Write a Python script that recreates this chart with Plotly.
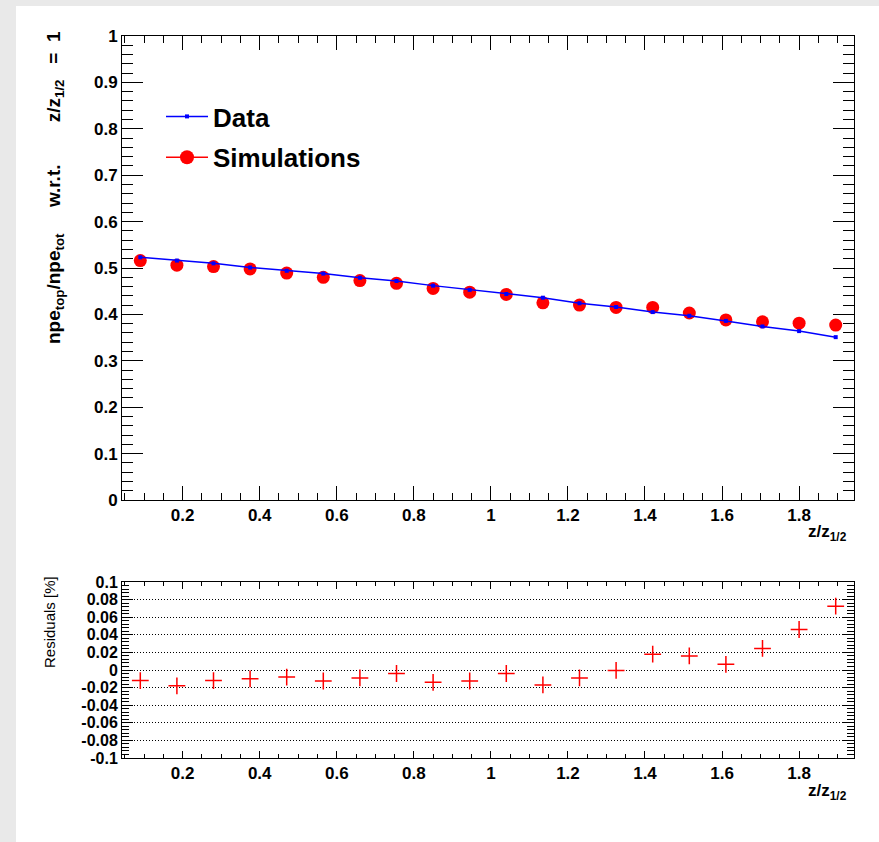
import plotly.graph_objects as go

# ---------------- data ----------------
z_ratio = [0.090, 0.185, 0.280, 0.375, 0.470, 0.565, 0.660, 0.755, 0.850, 0.945,
           1.040, 1.135, 1.230, 1.325, 1.420, 1.515, 1.610, 1.705, 1.800, 1.895]
data_vals = [0.523, 0.516, 0.510, 0.501, 0.494, 0.488, 0.479, 0.472, 0.462, 0.453,
             0.444, 0.436, 0.424, 0.416, 0.405, 0.397, 0.386, 0.374, 0.364, 0.351]
sim_vals = [0.516, 0.506, 0.503, 0.498, 0.489, 0.480, 0.473, 0.467, 0.456, 0.448,
            0.443, 0.425, 0.420, 0.415, 0.415, 0.403, 0.388, 0.384, 0.381, 0.377]
residuals = [-0.012, -0.018, -0.012, -0.010, -0.008, -0.0125, -0.009, -0.004, -0.014, -0.0125,
             -0.004, -0.017, -0.009, -0.0005, 0.018, 0.016, 0.0065, 0.0245, 0.046, 0.0725]
res_tickvals = [0.1, 0.08, 0.06, 0.04, 0.02, 0.0, -0.02, -0.04, -0.06, -0.08, -0.1]
res_ticktext = ["0.1", "0.08", "0.06", "0.04", "0.02", "0", "-0.02", "-0.04", "-0.06", "-0.08", "-0.1"]

W, H = 879, 842
FONT = "Liberation Sans, Arial, Helvetica, sans-serif"


def px_x(p):
    return p / W


def px_y(p):
    return 1 - p / H


fig = go.Figure()

# top panel
fig.add_trace(go.Scatter(x=z_ratio, y=sim_vals, mode="markers", name="Simulations",
                         marker=dict(color="#ff0000", size=13, symbol="circle"),
                         showlegend=False, xaxis="x", yaxis="y"))
fig.add_trace(go.Scatter(x=z_ratio, y=data_vals, mode="lines+markers", name="Data",
                         line=dict(color="#0000ff", width=1.5),
                         marker=dict(color="#0000ff", size=4, symbol="square"),
                         legendgroup="a", xaxis="x", yaxis="y"))
# legend entry for simulations (line + marker as in the reference legend)
fig.add_trace(go.Scatter(x=[None], y=[None], mode="lines+markers", name="Simulations",
                         line=dict(color="#ff0000", width=1.5),
                         marker=dict(color="#ff0000", size=14, symbol="circle"),
                         legendgroup="b", xaxis="x", yaxis="y"))

# bottom panel
fig.add_trace(go.Scatter(x=z_ratio, y=residuals, mode="markers", name="Residuals",
                         marker=dict(symbol="cross-thin", size=12,
                                     line=dict(color="#ff0000", width=1.5)),
                         showlegend=False, xaxis="x2", yaxis="y2"))

dom_x = [px_x(122), px_x(854)]
tickfont = dict(family=FONT, size=17, color="black", weight="bold")

common_x = dict(range=[0.0425, 1.9425], tickmode="linear", tick0=0, dtick=0.2,
                ticks="inside", tickcolor="black", tickwidth=1, automargin=False,
                showline=True, linecolor="black", linewidth=1, mirror="ticks",
                showgrid=False, zeroline=False, tickfont=tickfont, domain=dom_x)

fig.update_layout(
    template="none",
    width=W, height=H,
    margin=dict(l=0, r=0, t=0, b=0, pad=0, autoexpand=False),
    paper_bgcolor="#e9e9e9",
    plot_bgcolor="white",
    xaxis=dict(common_x, anchor="y", ticklen=14,
               minor=dict(dtick=0.05, tick0=0, ticks="inside", ticklen=7,
                          tickcolor="black", tickwidth=1, showgrid=False)),
    yaxis=dict(domain=[px_y(500), px_y(36)], range=[0, 1], tickmode="linear", tick0=0, dtick=0.1,
               ticks="inside", ticklen=21, tickcolor="black", tickwidth=1, automargin=False,
               minor=dict(dtick=0.02, tick0=0, ticks="inside", ticklen=11,
                          tickcolor="black", tickwidth=1, showgrid=False),
               showline=True, linecolor="black", linewidth=1, mirror="ticks",
               showgrid=False, zeroline=False, tickfont=tickfont, anchor="x"),
    xaxis2=dict(common_x, anchor="y2", ticklen=7,
                minor=dict(dtick=0.05, tick0=0, ticks="inside", ticklen=4,
                           tickcolor="black", tickwidth=1, showgrid=False)),
    yaxis2=dict(domain=[px_y(758), px_y(582)], range=[-0.1, 0.1],
                tickmode="array", tickvals=res_tickvals, ticktext=res_ticktext,
                ticks="inside", ticklen=11, tickcolor="black", tickwidth=1, automargin=False,
                minor=dict(dtick=0.004, tick0=0, ticks="inside", ticklen=7,
                           tickcolor="black", tickwidth=1, showgrid=False),
                showline=True, linecolor="black", linewidth=1, mirror="ticks",
                showgrid=True, gridcolor="black", gridwidth=1, griddash="1px,2px",
                zeroline=False, tickfont=dict(tickfont, size=16), anchor="x2"),
    legend=dict(x=px_x(161), y=px_y(93), xanchor="left", yanchor="top",
                bgcolor="rgba(0,0,0,0)", borderwidth=0, itemwidth=42,
                font=dict(family=FONT, size=26, color="black", weight="bold"),
                traceorder="grouped", tracegroupgap=4, itemsizing="trace"),
    showlegend=True,
    shapes=[dict(type="rect", xref="paper", yref="paper", x0=px_x(16), x1=1, y0=0, y1=px_y(6),
                 fillcolor="white", line=dict(width=0), layer="below")],
)

nb = "\u00a0"
fig.add_annotation(text="npe<sub>top</sub>/npe<sub>tot</sub>" + nb * 5 + "w.r.t." + nb * 8
                        + "z/z<sub>1/2</sub>" + nb * 3 + "=" + nb * 2 + "1",
                   textangle=-90, xref="paper", yref="paper", x=px_x(55), y=px_y(188),
                   xanchor="center", yanchor="middle", showarrow=False,
                   font=dict(family=FONT, size=19, color="black", weight="bold"))
fig.add_annotation(text="z/z<sub>1/2</sub>", xref="paper", yref="paper", x=px_x(849), y=px_y(533),
                   xanchor="right", yanchor="middle", showarrow=False,
                   font=dict(family=FONT, size=17, color="black", weight="bold"))
fig.add_annotation(text="z/z<sub>1/2</sub>", xref="paper", yref="paper", x=px_x(849), y=px_y(792),
                   xanchor="right", yanchor="middle", showarrow=False,
                   font=dict(family=FONT, size=17, color="black", weight="bold"))
fig.add_annotation(text="Residuals [%]", textangle=-90, xref="paper", yref="paper",
                   x=px_x(49), y=px_y(622), xanchor="center", yanchor="middle", showarrow=False,
                   font=dict(family=FONT, size=15, color="black"))

fig.write_html("out.html")
